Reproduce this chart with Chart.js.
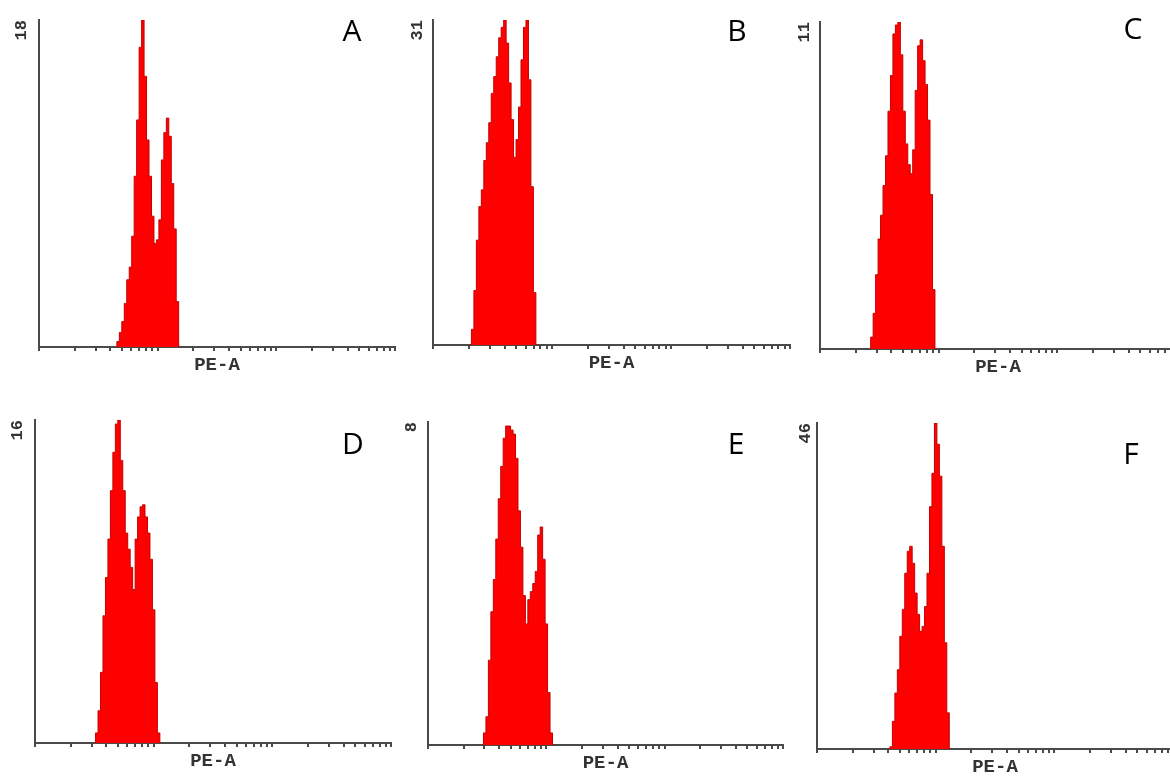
<!DOCTYPE html>
<html>
<head>
<meta charset="utf-8">
<script src="https://cdn.jsdelivr.net/npm/chart.js@4.4.1/dist/chart.umd.min.js"></script>
<style>
  html, body { margin: 0; padding: 0; background: #fff; }
  body { width: 1170px; height: 777px; position: relative; overflow: hidden; }
  canvas { position: absolute; }
  .letter {
    position: absolute; width: 100px; text-align: center;
    font-family: "Open Sans", sans-serif; font-size: 30px; line-height: 30px; color: #000;
  }
</style>
</head>
<body>
<script>
// PE-A bin centres (log spaced, shared by all panels)
const bins = [20.54, 21.54, 22.61, 23.71, 24.88, 26.10, 27.38, 28.73, 30.14, 31.62,
  33.18, 34.81, 36.52, 38.31, 40.20, 42.17, 44.24, 46.42, 48.70, 51.09,
  53.60, 56.23, 59.00, 61.90, 64.94, 68.13, 71.48, 74.99, 78.68, 82.54,
  86.60, 90.85, 95.32, 100.0, 104.9, 110.1, 115.5, 121.2, 127.1, 133.4,
  139.9, 146.8, 154.0];

// counts per bin
const countsA = [0,0,0,0,0,0,0,0,0,0,0,0,0,0,0,0,0,
  0.3,0.8,1.4,2.4,3.7,4.4,6.1,9.4,12.5,16.5,18,14.9,11.4,9.4,7.2,5.7,5.9,7.0,10.3,11.8,12.6,11.6,9.0,6.5,2.5,0];
const countsB = [0,1.5,5.2,10.0,13.2,14.8,17.6,19.3,21.2,24.0,25.6,27.5,29.3,30.3,31.0,28.8,25.0,21.5,17.9,19.6,
  22.7,27.2,30.3,31.0,25.3,15.1,5.0,0, 0,0,0,0,0,0,0,0,0,0,0,0,0,0,0];
const countsC = [0,0,0,0,0,0,
  0.4,1.2,2.5,3.7,4.5,5.5,6.5,8.0,9.2,10.6,10.9,11.0,9.9,8.0,6.9,6.2,5.9,6.7,8.7,10.2,10.4,9.7,8.9,7.7,5.2,2.0,0,
  0,0,0,0,0,0,0,0,0,0];
const countsD = [0,0,0,0,0,0,0,0,0,0,
  0.5,1.6,3.5,6.3,8.2,10.1,12.5,14.4,15.8,16.0,14.0,12.5,10.4,9.6,8.7,7.6,10.1,11.2,11.7,11.8,11.2,10.4,9.1,6.6,3.0,0.5,0,
  0,0,0,0,0,0];
const countsE = [0,0,0,0,0,0,0,0,
  0.3,0.7,2.1,3.3,4.1,5.1,6.1,6.9,7.6,7.9,7.9,7.8,7.7,7.1,5.8,4.9,3.7,3.0,3.6,3.8,4.0,4.3,5.2,5.4,4.6,3.0,1.3,0.3,0,
  0,0,0,0,0,0];
const countsF = [0,0,0,0,0,0,0,0,0,0,0,0,0,0,0,
  0.3,3.9,7.9,11.2,15.9,19.7,24.8,27.9,28.6,26.2,22.0,19.0,16.6,17.3,20.1,24.8,34.2,38.9,46,43,38.5,28.6,15.0,5.1,0,
  0,0,0];

const letters = ['A', 'B', 'C', 'D', 'E', 'F'];
const yMax = [18, 31, 11, 16, 8, 46];
const xTitle = 'PE-A';

// log axis ticks: 1..9 in each decade, 10 to 10000
const decades = [10, 100, 1000];
const mantissas = [1, 2, 3, 4, 5, 6, 7, 8, 9];

const allCounts = [countsA, countsB, countsC, countsD, countsE, countsF];

// plot frames in page pixels
const frames = [
  {left: 39, top: 20, right: 395, bottom: 347, gap: 17, lx: 352, ly: 42},
  {left: 433, top: 20, right: 790, bottom: 345, gap: 15, lx: 737, ly: 42},
  {left: 820, top: 22, right: 1176, bottom: 349, gap: 15, lx: 1133, ly: 40},
  {left: 35, top: 420, right: 391, bottom: 743, gap: 17, lx: 353, ly: 455},
  {left: 428, top: 422, right: 783, bottom: 745, gap: 16, lx: 736, ly: 455},
  {left: 817, top: 423, right: 1173, bottom: 749, gap: 11, lx: 1131, ly: 465}
];

const tickValues = [];
decades.forEach(d => mantissas.forEach(m => tickValues.push(d * m)));
tickValues.push(10000);

const Y_W = 40, X_H = 30, PAD_T = 10, PAD_R = 4;
const edge = '#c40000';

frames.forEach((f, i) => {
  const canvas = document.createElement('canvas');
  canvas.width = (f.right - f.left) + Y_W + PAD_R;
  canvas.height = (f.bottom - f.top) + PAD_T + X_H;
  canvas.style.left = (f.left - Y_W) + 'px';
  canvas.style.top = (f.top - PAD_T) + 'px';
  document.body.appendChild(canvas);

  const letter = document.createElement('div');
  letter.className = 'letter';
  letter.textContent = letters[i];
  letter.style.left = (f.lx - 50) + 'px';
  letter.style.top = (f.ly - 26.6) + 'px';
  document.body.appendChild(letter);

  const counts = allCounts[i];

  new Chart(canvas, {
    type: 'line',
    data: {
      datasets: [{
        data: bins.map((b, j) => ({x: b, y: counts[j]})),
        stepped: 'middle',
        fill: 'origin',
        backgroundColor: '#ff0000',
        borderColor: edge,
        borderWidth: 1,
        pointRadius: 0,
        segment: {
          // no outline along the empty baseline
          borderColor: ctx => (ctx.p0.parsed.y === 0 && ctx.p1.parsed.y === 0) ? 'rgba(0,0,0,0)' : edge
        }
      }]
    },
    options: {
      responsive: false,
      animation: false,
      layout: {padding: {top: PAD_T, right: PAD_R, left: 0, bottom: 0}},
      plugins: {legend: {display: false}, tooltip: {enabled: false}},
      scales: {
        x: {
          type: 'logarithmic',
          min: 10,
          max: 10000,
          z: 1,
          afterBuildTicks: scale => { scale.ticks = tickValues.map(v => ({value: v})); },
          afterFit: scale => { scale.height = X_H; },
          ticks: {display: false},
          grid: {drawOnChartArea: false, drawTicks: true, tickLength: 4, lineWidth: 2, color: '#4a4a4a'},
          border: {display: true, color: '#4a4a4a', width: 2},
          title: {
            display: true,
            text: xTitle,
            color: '#333',
            font: {family: 'Liberation Mono', size: 19, weight: 'bold'},
            padding: {top: 0, bottom: 0}
          }
        },
        y: {
          min: 0,
          max: yMax[i],
          z: 1,
          afterFit: scale => { scale.width = Y_W; },
          ticks: {display: false},
          grid: {display: false},
          border: {display: true, color: '#4a4a4a', width: 2},
          title: {
            display: true,
            text: String(yMax[i]),
            align: 'end',
            color: '#333',
            font: {family: 'Liberation Mono', size: 17, weight: 'bold'},
            padding: {top: Y_W - f.gap - 10.2, bottom: 0}
          }
        }
      }
    }
  });
});
</script>
</body>
</html>
